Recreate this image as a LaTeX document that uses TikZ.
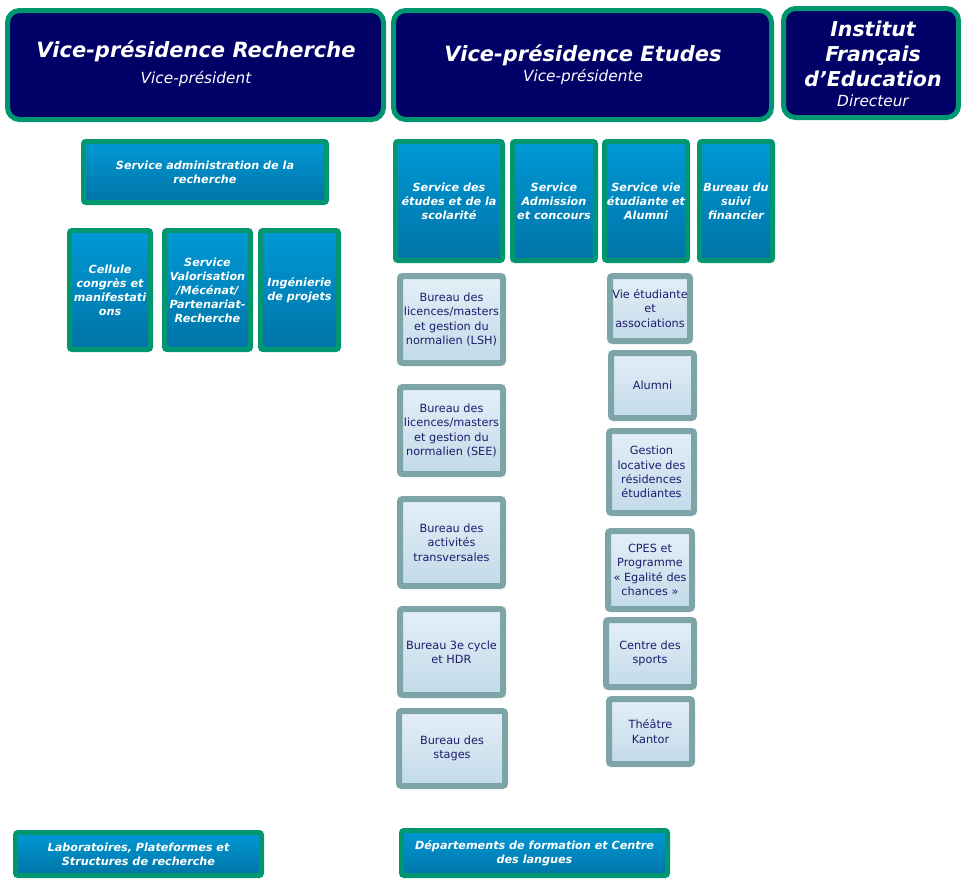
\documentclass[tikz,border=0pt]{standalone}
\usepackage{fontspec}
\setmainfont{DejaVu Sans}
\definecolor{vgreen}{RGB}{0,150,112}
\definecolor{vnavy}{RGB}{0,0,102}
\definecolor{btop}{RGB}{0,153,214}
\definecolor{bbot}{RGB}{0,116,166}
\definecolor{ltop}{RGB}{228,239,247}
\definecolor{lbot}{RGB}{194,218,233}
\definecolor{lgrey}{RGB}{125,165,168}
\definecolor{ntext}{RGB}{28,28,110}
\tikzset{
  vpbox/.style={draw=vgreen, line width=5pt, fill=vnavy, rounded corners=12pt, text=white, align=center, inner sep=0pt},
  bluebox/.style={draw=vgreen, line width=5pt, top color=btop, bottom color=bbot, rounded corners=2.5pt, text=white, align=center, inner sep=0pt, font=\fontsize{11.2}{14}\selectfont\bfseries\itshape},
  lightbox/.style={draw=lgrey, line width=6pt, top color=ltop, bottom color=lbot, rounded corners=2.5pt, text=ntext, align=center, inner sep=0pt, font=\fontsize{11.3}{14.3}\selectfont},
  ttl/.style={font=\fontsize{21}{25}\selectfont\bfseries\itshape},
  ifettl/.style={font=\fontsize{20.5}{25}\selectfont\bfseries\itshape},
  sub/.style={font=\fontsize{15.3}{17}\selectfont\itshape}
}
\newcommand\bx[8]{%
  \pgfmathsetmacro\bw{#6-#4-#2}\pgfmathsetmacro\bh{#7-#5-#2}%
  \pgfmathsetmacro\bcx{(#4+#6)/2}\pgfmathsetmacro\bcy{(#5+#7)/2}%
  \node[#1, minimum width=\bw pt, minimum height=\bh pt] (#3) at (\bcx,\bcy) {#8};}
\begin{document}
\begin{tikzpicture}[x=1pt,y=-1pt]
\useasboundingbox (0,0) rectangle (961,881);
% top boxes
\bx{vpbox}{5}{vpr}{5}{8}{386}{122}{}
\node[ttl, text=white] (vprt) at (196,51) {Vice-présidence Recherche};
\node[sub, text=white] (vprs) at (196,79) {Vice-président};
\bx{vpbox}{5}{vpe}{391}{8}{774}{122}{}
\node[ttl, text=white] (vpet) at (583,55) {Vice-présidence Etudes};
\node[sub, text=white] (vpes) at (583,77) {Vice-présidente};
\bx{vpbox}{5}{ife}{781}{6}{961}{120}{}
\node[ifettl, text=white, align=center] (ifet) at (873,54) {Institut\\Français\\d’Education};
\node[sub, text=white] (ifes) at (873,101) {Directeur};
% recherche services
\bx{bluebox}{5}{sar}{81}{139}{329}{205}{Service administration de la\\recherche}
\bx{bluebox}{5}{ccm}{67}{228}{153}{352}{Cellule\\congrès et\\manifestati\\ons}
\bx{bluebox}{5}{svm}{162}{228}{253}{352}{Service\\Valorisation\\/Mécénat/\\Partenariat-\\Recherche}
\bx{bluebox}{5}{ing}{258}{228}{341}{352}{Ingénierie\\de projets}
% etudes services
\bx{bluebox}{5}{ses}{393}{139}{505}{263}{Service des\\études et de la\\scolarité}
\bx{bluebox}{5}{sac}{510}{139}{598}{263}{Service\\Admission\\et concours}
\bx{bluebox}{5}{sve}{602}{139}{690}{263}{Service vie\\étudiante et\\Alumni}
\bx{bluebox}{5}{bsf}{697}{139}{775}{263}{Bureau du\\suivi\\financier}
% bureaux colonne gauche
\bx{lightbox}{6}{blsh}{397}{273}{506}{366}{Bureau des\\licences/masters\\et gestion du\\normalien (LSH)}
\bx{lightbox}{6}{bsee}{397}{384}{506}{477}{Bureau des\\licences/masters\\et gestion du\\normalien (SEE)}
\bx{lightbox}{6}{bat}{397}{496}{506}{589}{Bureau des\\activités\\transversales}
\bx{lightbox}{6}{b3c}{397}{606}{506}{698}{Bureau 3e cycle\\et HDR}
\bx{lightbox}{6}{bst}{396}{708}{508}{789}{Bureau des\\stages}
% bureaux colonne droite
\bx{lightbox}{6}{vea}{607}{273}{693}{344}{Vie étudiante\\et\\associations}
\bx{lightbox}{6}{alu}{608}{350}{697}{421}{Alumni}
\bx{lightbox}{6}{glr}{606}{428}{697}{516}{Gestion\\locative des\\résidences\\étudiantes}
\bx{lightbox}{6}{cpes}{605}{528}{695}{612}{CPES et\\Programme\\« Egalité des\\chances »}
\bx{lightbox}{6}{cds}{603}{617}{697}{690}{Centre des\\sports}
\bx{lightbox}{6}{tk}{606}{696}{695}{767}{Théâtre\\Kantor}
% bas
\bx{bluebox}{5}{lab}{13}{830}{264}{878}{Laboratoires, Plateformes et\\Structures de recherche}
\bx{bluebox}{5}{dep}{399}{828}{670}{878}{Départements de formation et Centre\\des langues}
\end{tikzpicture}
\end{document}
